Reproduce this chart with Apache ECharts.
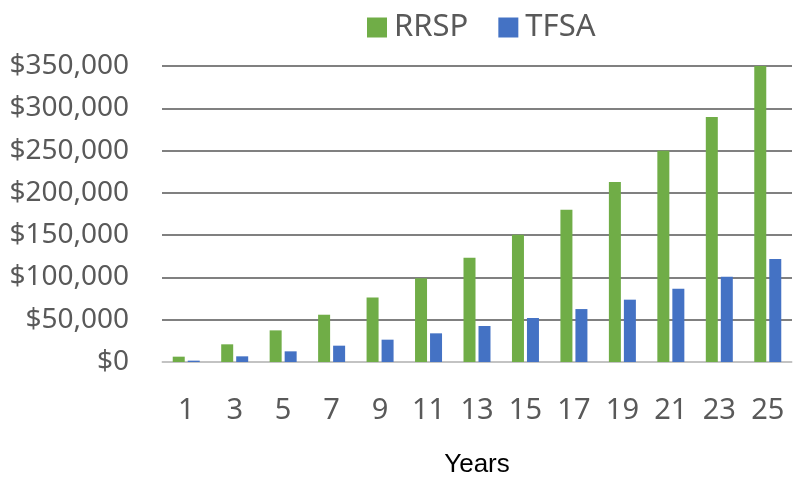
<!DOCTYPE html>
<html>
<head>
<meta charset="utf-8">
<script src="https://cdn.jsdelivr.net/npm/echarts@6/dist/echarts.min.js"></script>
<style>
  html, body { margin: 0; padding: 0; background: #fff; }
  #chart { width: 794px; height: 477px; }
</style>
</head>
<body>
<div id="chart"></div>
<script>
// years shown on the x axis
const years = ["1", "3", "5", "7", "9", "11", "13", "15", "17", "19", "21", "23", "25"];
// values
const rrsp = [6300, 20900, 37400, 55900, 76400, 99000, 123300, 150500, 180000, 212800, 249800, 289600, 350000];
const tfsa = [1600, 6700, 12600, 19300, 26400, 33900, 42600, 52000, 62600, 73700, 86700, 100900, 121700];

const chart = echarts.init(document.getElementById("chart"));

const moneyFmt = (v) => "$" + v.toLocaleString("en-US");

chart.setOption({
  animation: false,
  textStyle: {fontFamily: "Noto Sans"},
  legend: {
    top: 7,
    left: 362,
    itemWidth: 20,
    itemHeight: 20,
    itemGap: 30,
    icon: "rect",
    textStyle: {fontSize: 31, color: "#595959", fontFamily: "Noto Sans", padding: [0, 0, 0, 2]},
    data: ["RRSP", "TFSA"]
  },
  grid: {left: 162, right: 2, top: 66, bottom: 115, containLabel: false, outerBoundsMode: "none"},
  xAxis: {
    type: "category",
    data: years,
    name: "Years",
    nameLocation: "middle",
    nameGap: 90,
    nameMoveOverlap: false,
    nameTextStyle: {fontSize: 26, color: "#000", fontFamily: "Liberation Sans"},
    axisTick: {show: false},
    axisLine: {lineStyle: {color: "#d9d9d9", width: 1.5}},
    axisLabel: {interval: 0, fontSize: 29, color: "#595959", margin: 34}
  },
  yAxis: {
    type: "value",
    min: 0,
    max: 350000,
    interval: 50000,
    axisLine: {show: false},
    axisTick: {show: false},
    splitLine: {lineStyle: {color: "#808080", width: 2}},
    axisLabel: {fontSize: 28, color: "#595959", margin: 33, formatter: moneyFmt}
  },
  series: [
    {
      name: "RRSP",
      type: "bar",
      data: rrsp,
      barWidth: 12,
      barGap: "25%",
      itemStyle: {color: "#70ad47"}
    },
    {
      name: "TFSA",
      type: "bar",
      data: tfsa,
      barWidth: 12,
      itemStyle: {color: "#4472c4"}
    }
  ]
});
</script>
</body>
</html>
